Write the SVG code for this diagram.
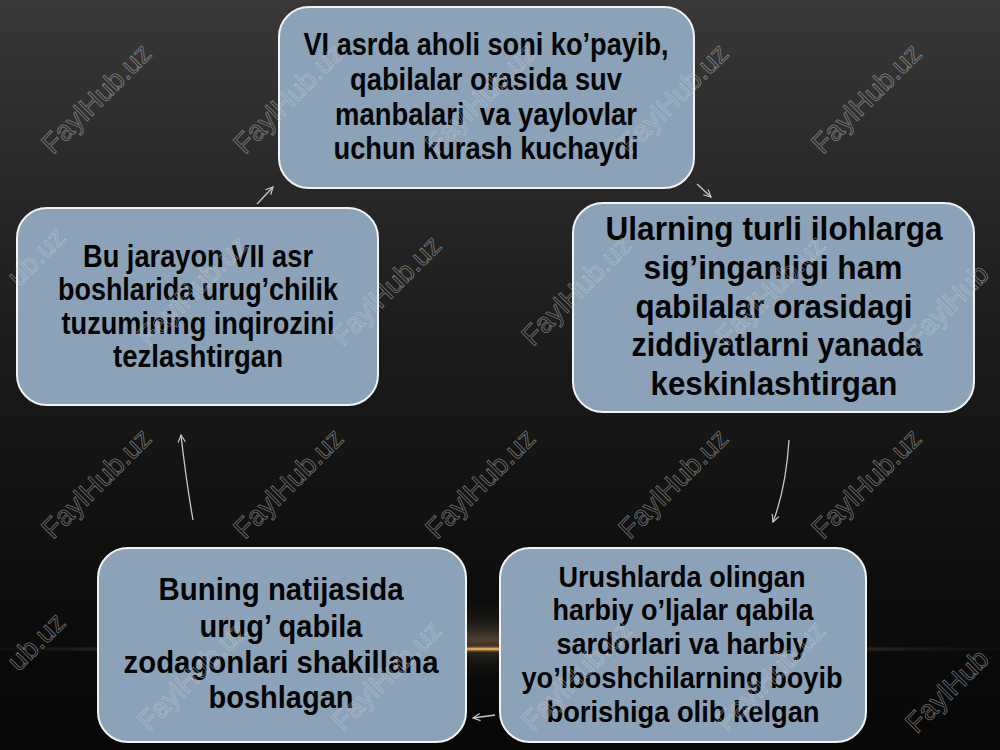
<svg xmlns="http://www.w3.org/2000/svg" width="1000" height="750" viewBox="0 0 1000 750">
  <defs>
    <linearGradient id="bg" x1="0" y1="0" x2="0" y2="1">
      <stop offset="0" stop-color="#383838"/>
      <stop offset="0.45" stop-color="#1b1b1b"/>
      <stop offset="0.8" stop-color="#0d0d0d"/>
      <stop offset="1" stop-color="#070707"/>
    </linearGradient>
    <radialGradient id="glowLine" cx="0.5" cy="0.5" r="0.5">
      <stop offset="0" stop-color="#ffd070" stop-opacity="1"/>
      <stop offset="0.25" stop-color="#e0a040" stop-opacity="0.8"/>
      <stop offset="0.7" stop-color="#806040" stop-opacity="0.25"/>
      <stop offset="1" stop-color="#404040" stop-opacity="0"/>
    </radialGradient>
    <radialGradient id="glowHaze" cx="0.5" cy="0.5" r="0.5">
      <stop offset="0" stop-color="#8a7050" stop-opacity="0.55"/>
      <stop offset="0.5" stop-color="#504538" stop-opacity="0.2"/>
      <stop offset="1" stop-color="#303030" stop-opacity="0"/>
    </radialGradient>
    <marker id="arr" viewBox="0 0 10 10" refX="9" refY="5" markerWidth="9" markerHeight="9" markerUnits="userSpaceOnUse" orient="auto">
      <path d="M1,1 L9,5 L1,9" fill="none" stroke="#c8c8c8" stroke-width="1.3"/>
    </marker>
    <style>
      .box { fill: #8ba2b8; stroke: #f2f2f2; stroke-width: 2; }
      .t { font-family: "Liberation Sans", Arial, sans-serif; font-weight: bold; fill: #050505; text-anchor: middle; }
      .conn { fill: none; stroke: #c8c8c8; stroke-width: 1.3; marker-end: url(#arr); }
      .wm { font-family: "Liberation Sans", Arial, sans-serif; font-size: 28px; fill: none; stroke: #d0d0d0; stroke-width: 0.8; stroke-opacity: 0.5; text-anchor: middle; }
      .wmE { text-anchor: end; }
      .wmS { text-anchor: start; }
    </style>
  </defs>

  <rect x="0" y="0" width="1000" height="750" fill="url(#bg)"/>
  <ellipse cx="490" cy="640" rx="420" ry="40" fill="url(#glowHaze)"/>
  <ellipse cx="490" cy="649" rx="560" ry="4" fill="url(#glowLine)"/>

  <g id="connectors">
    <path class="conn" d="M257,204 L273,187"/>
    <path class="conn" d="M697,184 L711,197"/>
    <path class="conn" d="M789,440 Q786,488 773,522"/>
    <path class="conn" d="M495,715 L473,718"/>
    <path class="conn" d="M193,520 Q186,480 181,435"/>
  </g>

  <g id="node-top">
    <rect class="box" x="279" y="7" width="415" height="181" rx="30"/>
    <text class="t" font-size="32"><tspan x="486" y="55" textLength="365" lengthAdjust="spacingAndGlyphs">VI asrda aholi soni ko’payib,</tspan></text>
    <text class="t" font-size="32"><tspan x="486" y="90" textLength="272" lengthAdjust="spacingAndGlyphs">qabilalar orasida suv</tspan></text>
    <text class="t" font-size="32" xml:space="preserve"><tspan x="486" y="125" textLength="302" lengthAdjust="spacingAndGlyphs">manbalari  va yaylovlar</tspan></text>
    <text class="t" font-size="32"><tspan x="486" y="159" textLength="305" lengthAdjust="spacingAndGlyphs">uchun kurash kuchaydi</tspan></text>
  </g>

  <g id="node-right">
    <rect class="box" x="573" y="203" width="401" height="209" rx="30"/>
    <text class="t" font-size="34"><tspan x="774" y="240" textLength="337" lengthAdjust="spacingAndGlyphs">Ularning turli ilohlarga</tspan></text>
    <text class="t" font-size="34"><tspan x="773" y="279" textLength="259" lengthAdjust="spacingAndGlyphs">sig’inganligi ham</tspan></text>
    <text class="t" font-size="34"><tspan x="774" y="318" textLength="277" lengthAdjust="spacingAndGlyphs">qabilalar orasidagi</tspan></text>
    <text class="t" font-size="34"><tspan x="777" y="356" textLength="291" lengthAdjust="spacingAndGlyphs">ziddiyatlarni yanada</tspan></text>
    <text class="t" font-size="34"><tspan x="774" y="395" textLength="247" lengthAdjust="spacingAndGlyphs">keskinlashtirgan</tspan></text>
  </g>

  <g id="node-bottom-right">
    <rect class="box" x="500" y="548" width="366" height="194" rx="30"/>
    <text class="t" font-size="30"><tspan x="682" y="587" textLength="247" lengthAdjust="spacingAndGlyphs">Urushlarda olingan</tspan></text>
    <text class="t" font-size="30"><tspan x="683" y="620" textLength="261" lengthAdjust="spacingAndGlyphs">harbiy o’ljalar qabila</tspan></text>
    <text class="t" font-size="30"><tspan x="682" y="654" textLength="251" lengthAdjust="spacingAndGlyphs">sardorlari va harbiy</tspan></text>
    <text class="t" font-size="30"><tspan x="682" y="688" textLength="321" lengthAdjust="spacingAndGlyphs">yo’lboshchilarning boyib</tspan></text>
    <text class="t" font-size="30"><tspan x="683" y="722" textLength="273" lengthAdjust="spacingAndGlyphs">borishiga olib kelgan</tspan></text>
  </g>

  <g id="node-bottom-left">
    <rect class="box" x="98" y="548" width="368" height="194" rx="30"/>
    <text class="t" font-size="32"><tspan x="281" y="600" textLength="245" lengthAdjust="spacingAndGlyphs">Buning natijasida</tspan></text>
    <text class="t" font-size="32"><tspan x="281" y="637" textLength="163" lengthAdjust="spacingAndGlyphs">urug’ qabila</tspan></text>
    <text class="t" font-size="32"><tspan x="281" y="673" textLength="315" lengthAdjust="spacingAndGlyphs">zodagonlari shakillana</tspan></text>
    <text class="t" font-size="32"><tspan x="281" y="708" textLength="145" lengthAdjust="spacingAndGlyphs">boshlagan</tspan></text>
  </g>

  <g id="node-left">
    <rect class="box" x="17" y="208" width="361" height="197" rx="30"/>
    <text class="t" font-size="31"><tspan x="198" y="267" textLength="230" lengthAdjust="spacingAndGlyphs">Bu jarayon VII asr</tspan></text>
    <text class="t" font-size="31"><tspan x="198" y="300" textLength="280" lengthAdjust="spacingAndGlyphs">boshlarida urug’chilik</tspan></text>
    <text class="t" font-size="31"><tspan x="198" y="334" textLength="273" lengthAdjust="spacingAndGlyphs">tuzumining inqirozini</tspan></text>
    <text class="t" font-size="31"><tspan x="198" y="367" textLength="170" lengthAdjust="spacingAndGlyphs">tezlashtirgan</tspan></text>
  </g>

  <g id="watermarks">
    <text class="wm" transform="translate(96,98) rotate(-45)" y="10">FaylHub.uz</text>
    <text class="wm" transform="translate(288,98) rotate(-45)" y="10">FaylHub.uz</text>
    <text class="wm" transform="translate(480,98) rotate(-45)" y="10">FaylHub.uz</text>
    <text class="wm" transform="translate(673,98) rotate(-45)" y="10">FaylHub.uz</text>
    <text class="wm" transform="translate(866,98) rotate(-45)" y="10">FaylHub.uz</text>
    <text class="wm wmE" transform="translate(2,290) rotate(-45)" x="82" y="10">ub.uz</text>
    <text class="wm" transform="translate(192,290) rotate(-45)" y="10">FaylHub.uz</text>
    <text class="wm" transform="translate(386,290) rotate(-45)" y="10">FaylHub.uz</text>
    <text class="wm" transform="translate(576,290) rotate(-45)" y="10">FaylHub.uz</text>
    <text class="wm" transform="translate(770,290) rotate(-45)" y="10">FaylHub.uz</text>
    <text class="wm wmS" transform="translate(962,290) rotate(-45)" x="-74" y="10">FaylHub</text>
    <text class="wm" transform="translate(96,483) rotate(-45)" y="10">FaylHub.uz</text>
    <text class="wm" transform="translate(288,483) rotate(-45)" y="10">FaylHub.uz</text>
    <text class="wm" transform="translate(480,483) rotate(-45)" y="10">FaylHub.uz</text>
    <text class="wm" transform="translate(673,483) rotate(-45)" y="10">FaylHub.uz</text>
    <text class="wm" transform="translate(866,483) rotate(-45)" y="10">FaylHub.uz</text>
    <text class="wm wmE" transform="translate(2,675) rotate(-45)" x="82" y="10">ub.uz</text>
    <text class="wm" transform="translate(192,675) rotate(-45)" y="10">FaylHub.uz</text>
    <text class="wm" transform="translate(386,675) rotate(-45)" y="10">FaylHub.uz</text>
    <text class="wm" transform="translate(576,675) rotate(-45)" y="10">FaylHub.uz</text>
    <text class="wm" transform="translate(770,675) rotate(-45)" y="10">FaylHub.uz</text>
    <text class="wm wmS" transform="translate(962,675) rotate(-45)" x="-74" y="10">FaylHub</text>
  </g>
</svg>
